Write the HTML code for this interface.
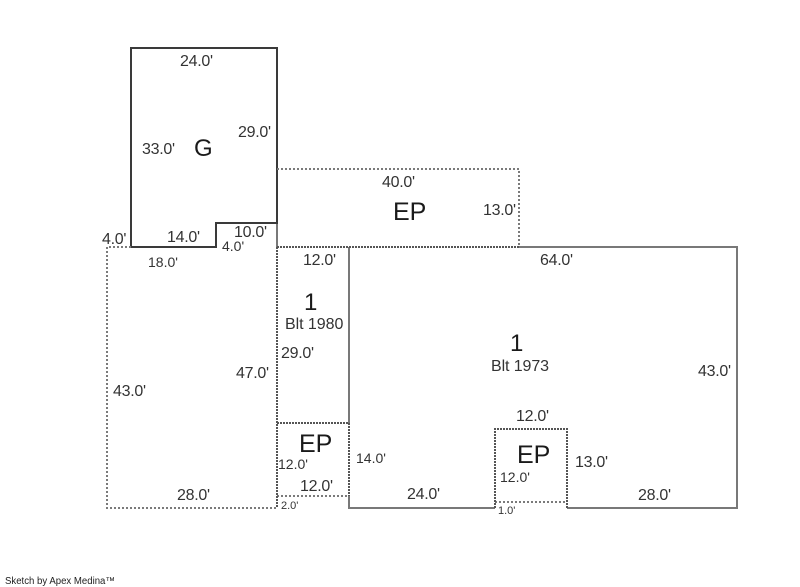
<!DOCTYPE html>
<html>
<head>
<meta charset="utf-8">
<style>
html,body{margin:0;padding:0;background:#fff;width:800px;height:587px;overflow:hidden}
svg{display:block}
text{font-family:"Liberation Sans",Arial,sans-serif;fill:#333;font-size:14px}
.m{font-size:16px;letter-spacing:-.3px}
.b{font-size:24px;fill:#1a1a1a}
.s{font-size:11px}
.f{font-size:10px;fill:#222}
</style>
</head>
<body>
<svg width="800" height="587" viewBox="0 0 800 587" xmlns="http://www.w3.org/2000/svg">
<g fill="none" stroke-width="2" shape-rendering="crispEdges">
  <!-- solid gray -->
  <g stroke="#787878">
    <path d="M277 223V247"/>
    <path d="M349 247V423M349 496V508H495M567 508H737V247H519"/>
  </g>
  <!-- garage -->
  <path stroke="#3a3a3a" d="M131 247V48H277V223H216V247H131"/>
  <!-- dotted -->
  <g stroke="#7a7a7a" stroke-dasharray="2 2">
    <path d="M131 247H107V508H277"/>
    <path d="M277 169H519V247"/>
    <path d="M277 496H349"/>
    <path d="M495 502H567"/>
  </g>
  <g stroke="#555" stroke-dasharray="2 1">
    <path d="M277 247H519"/>
    <path d="M277 247V508"/>
    <path d="M277 423H349V496"/>
    <path d="M495 508V429H567V508"/>
  </g>
</g>
<text class="m" x="180" y="66">24.0'</text>
<text class="m" x="238" y="137">29.0'</text>
<text class="m" x="142" y="154">33.0'</text>
<text class="b" x="194" y="156">G</text>
<text class="m" x="382" y="187">40.0'</text>
<text class="b" x="393" y="220" style="font-size:25px">EP</text>
<text class="m" x="483" y="215">13.0'</text>
<text class="m" x="102" y="244">4.0'</text>
<text class="m" x="167" y="242">14.0'</text>
<text class="m" x="234" y="237">10.0'</text>
<text x="222" y="251">4.0'</text>
<text x="148" y="267">18.0'</text>
<text class="m" x="303" y="265">12.0'</text>
<text class="m" x="540" y="265">64.0'</text>
<text class="b" x="304" y="310">1</text>
<text class="m" x="285" y="329" style="letter-spacing:-.05px">Blt 1980</text>
<text class="b" x="510" y="351">1</text>
<text class="m" x="491" y="371" style="letter-spacing:-.1px">Blt 1973</text>
<text class="m" x="281" y="358">29.0'</text>
<text class="m" x="236" y="378">47.0'</text>
<text class="m" x="113" y="396">43.0'</text>
<text class="m" x="698" y="376">43.0'</text>
<text x="516" y="421" class="m">12.0'</text>
<text class="b" x="299" y="452" style="font-size:25px">EP</text>
<text x="278" y="469">12.0'</text>
<text class="m" x="300" y="491">12.0'</text>
<text class="s" x="281" y="509">2.0'</text>
<text x="356" y="463">14.0'</text>
<text class="m" x="407" y="499">24.0'</text>
<text class="b" x="517" y="463" style="font-size:25px">EP</text>
<text x="500" y="482">12.0'</text>
<text class="s" x="498" y="514">1.0'</text>
<text class="m" x="575" y="467">13.0'</text>
<text class="m" x="638" y="500">28.0'</text>
<text class="m" x="177" y="500">28.0'</text>
<text class="f" x="5" y="584" textLength="110" lengthAdjust="spacingAndGlyphs">Sketch by Apex Medina™</text>
</svg>
</body>
</html>
